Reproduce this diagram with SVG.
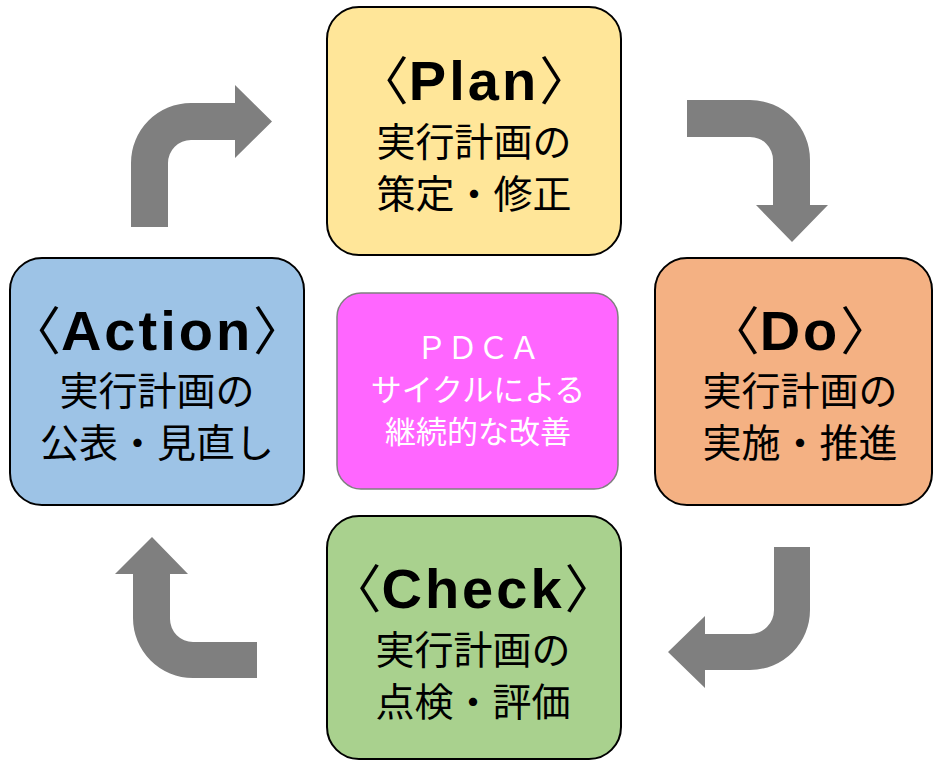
<svg xmlns="http://www.w3.org/2000/svg" width="936" height="760" viewBox="0 0 936 760">
<style>
.box{stroke:#000;stroke-width:2}
.arrow{fill:#7f7f7f;stroke:none}
.title{font-family:"Liberation Sans","Noto Sans CJK JP",sans-serif;font-weight:bold;font-size:56px;fill:#000;text-anchor:middle;letter-spacing:3px}
.br{font-family:"Noto Sans CJK JP",sans-serif;font-weight:normal;font-size:52px;letter-spacing:0}
.jp{font-family:"Noto Sans CJK JP",sans-serif;font-size:39px;fill:#000;text-anchor:middle}
.ctr{font-family:"Noto Sans CJK JP",sans-serif;font-size:31px;fill:#fff;text-anchor:middle}
</style>
<rect width="936" height="760" fill="#fff"/>
<g id="connectors">
<path class="arrow" d="M131,227 L131,163 A60,60 0 0 1 191,103 L235,103 L235,85 L272,121.5 L235,158 L235,140 L191,140 A23,23 0 0 0 168,163 L168,227 Z"/>
<path class="arrow" d="M687,100 L750,100 A60,60 0 0 1 810,160 L810,205 L828,205 L792,242 L756,205 L773,205 L773,160 A23,23 0 0 0 750,137 L687,137 Z"/>
<path class="arrow" d="M774,547 L810,547 L810,610 A60,60 0 0 1 750,670 L705,670 L705,688 L668,652 L705,616 L705,634 L750,634 A24,24 0 0 0 774,610 Z"/>
<path class="arrow" d="M257,642 L193,642 A23,23 0 0 1 170,619 L170,574 L188,574 L152,537 L115,574 L133,574 L133,618 A60,60 0 0 0 193,678 L257,678 Z"/>
</g>
<g id="plan">
<rect class="box" x="327" y="7" width="294" height="248" rx="32" fill="#ffe699"/>
<text class="title" x="474" y="100"><tspan class="br">〈</tspan>Plan<tspan class="br">〉</tspan></text>
<text class="jp" x="474" y="156">実行計画の<tspan x="474" dy="52">策定・修正</tspan></text>
</g>
<g id="do">
<rect class="box" x="655" y="258" width="277" height="247" rx="32" fill="#f4b183"/>
<text class="title" x="800" y="350"><tspan class="br">〈</tspan>Do<tspan class="br">〉</tspan></text>
<text class="jp" x="800" y="405">実行計画の<tspan x="800" dy="52">実施・推進</tspan></text>
</g>
<g id="check">
<rect class="box" x="327" y="516" width="294" height="243" rx="32" fill="#a9d18e"/>
<text class="title" x="473" y="608"><tspan class="br">〈</tspan>Check<tspan class="br">〉</tspan></text>
<text class="jp" x="473" y="664">実行計画の<tspan x="473" dy="52">点検・評価</tspan></text>
</g>
<g id="action">
<rect class="box" x="10" y="258" width="294" height="247" rx="32" fill="#9dc3e6"/>
<text class="title" x="157" y="350"><tspan class="br">〈</tspan>Action<tspan class="br">〉</tspan></text>
<text class="jp" x="157" y="405">実行計画の<tspan x="157" dy="52">公表・見直し</tspan></text>
</g>
<g id="center">
<rect x="337" y="293" width="281" height="196" rx="24" fill="#ff66ff" stroke="#7f7f7f" stroke-width="1.5"/>
<text class="ctr" x="478" y="359">ＰＤＣＡ<tspan x="478" dy="42">サイクルによる</tspan><tspan x="478" dy="42">継続的な改善</tspan></text>
</g>
</svg>
